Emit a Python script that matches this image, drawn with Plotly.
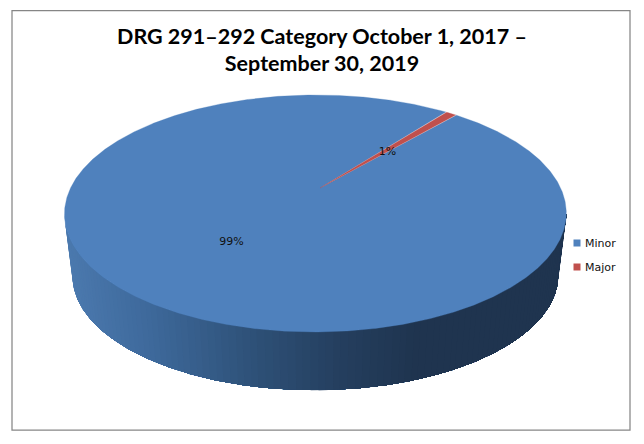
import numpy as np
import plotly.graph_objects as go

# Data
categories = ["Minor", "Major"]
values = [99.1, 0.9]
colors = ["#4F81BD", "#C0504D"]
first_slice_deg = 40.6          # clockwise from 12 o'clock
label_radius = [0.558, 0.453]
label_nudge = [(7, 0), (3, 1)]
title_lines = ["DRG 291\u2013292 Category October 1, 2017 \u2013", "September 30, 2019"]

# Projected pie geometry (perspective view of a disc)
APEX = (320.0, 188.0)
SX, SY, K, M = 245.0, 113.0, 0.215, 0.018
DEPTH_SHIFT, DEPTH_SCALE = 62.0, 0.968
PAGE_MARGIN = 8  # the page body offsets the figure by this many pixels


def project(theta, r=1.0):
    u, v = r * np.cos(theta), r * np.sin(theta)
    w = 1 + K * v + M * u
    return APEX[0] + SX * u / w, APEX[1] - SY * v / w


fig = go.Figure()

# Side wall: strips shaded left to right, each painted over the previous one
tt = np.linspace(0, 2 * np.pi, 1441)[:-1]
ex, ey = project(tt)
cx, cy = (ex.min() + ex.max()) / 2, (ey.min() + ey.max()) / 2
front = ey >= cy
order = np.argsort(ex[front])
fx, fy = ex[front][order], ey[front][order]
bx = cx + DEPTH_SCALE * (fx - cx)
by = cy + DEPTH_SHIFT + DEPTH_SCALE * (fy - cy)

shade_x = [64, 150, 250, 340, 420, 570]
shade_r = [76, 62, 47, 37, 31, 31]
shade_g = [122, 105, 82, 63, 52, 52]
shade_b = [175, 155, 121, 95, 79, 79]

edges = np.linspace(0, len(fx) - 1, 111).astype(int)
for a, b in zip(edges[:-1], edges[1:]):
    mid = (fx[a] + fx[b]) / 2
    col = "rgb(%d,%d,%d)" % (
        np.interp(mid, shade_x, shade_r),
        np.interp(mid, shade_x, shade_g),
        np.interp(mid, shade_x, shade_b),
    )
    xs = list(fx[a:]) + list(bx[a:][::-1])
    ys = list(fy[a:]) + list(by[a:][::-1])
    fig.add_trace(go.Scatter(x=xs, y=ys, mode="lines", fill="toself", fillcolor=col,
                             line=dict(width=0), hoverinfo="skip", showlegend=False))

# Top face slices, clockwise from the first-slice angle
total = sum(values)
start = first_slice_deg
mids = []
for name, val, col in zip(categories, values, colors):
    sweep = 360.0 * val / total
    clock = np.linspace(start, start + sweep, max(int(sweep * 4), 8))
    th = np.radians(90 - clock)
    sx_, sy_ = project(th)
    xs = [APEX[0]] + list(sx_) + [APEX[0]]
    ys = [APEX[1]] + list(sy_) + [APEX[1]]
    fig.add_trace(go.Scatter(x=xs, y=ys, mode="lines", fill="toself", fillcolor=col,
                             line=dict(color=col, width=0.3), hoverinfo="skip", showlegend=False))
    mids.append(np.radians(90 - (start + sweep / 2)))
    start += sweep

# Percent labels
lx, ly, lt = [], [], []
for val, m, r, (nx, ny) in zip(values, mids, label_radius, label_nudge):
    px, py = project(m, r)
    lx.append(float(px) + nx)
    ly.append(float(py) + ny)
    lt.append(f"{round(100 * val / total)}%")
fig.add_trace(go.Scatter(x=lx, y=ly, mode="text", text=lt, textposition="middle center",
                         textfont=dict(family="DejaVu Sans", size=11, color="#111111"),
                         hoverinfo="skip", showlegend=False))

# Legend: swatches plus real text entries
LEGEND_X, LEGEND_TEXT_X, LEGEND_Y, LEGEND_STEP = 577, 582.5, 243, 24
key_y = [LEGEND_Y + i * LEGEND_STEP for i in range(len(categories))]
fig.add_trace(go.Scatter(x=[LEGEND_X] * len(categories), y=key_y, mode="markers",
                         marker=dict(symbol="square", size=7, color=colors),
                         hoverinfo="skip", showlegend=False))
annotations = [
    dict(x=LEGEND_TEXT_X, y=yy, xref="x", yref="y", text=name, showarrow=False, xanchor="left",
         yanchor="middle", font=dict(family="DejaVu Sans", size=11, color="#111111"))
    for name, yy in zip(categories, key_y)
]

W, H = 644 - PAGE_MARGIN, 444 - PAGE_MARGIN
fig.update_layout(
    width=W, height=H,
    margin=dict(l=0, r=0, t=0, b=0),
    paper_bgcolor="white", plot_bgcolor="white",
    showlegend=False,
    xaxis=dict(range=[PAGE_MARGIN, 644], visible=False, fixedrange=True),
    yaxis=dict(range=[444, PAGE_MARGIN], visible=False, fixedrange=True),
    title=dict(text="<br>".join(title_lines), x=(322 - PAGE_MARGIN) / W, xanchor="center",
               xref="container", y=1 - 35.5 / H, yanchor="middle",
               font=dict(family="Lato", size=21.5, color="#000000", weight="bold")),
    annotations=annotations,
    shapes=[dict(type="rect", x0=12, x1=630, y0=10.5, y1=430,
                 line=dict(color="#868686", width=1.25), fillcolor="rgba(0,0,0,0)", layer="above")],
)
fig.write_html("out.html")
